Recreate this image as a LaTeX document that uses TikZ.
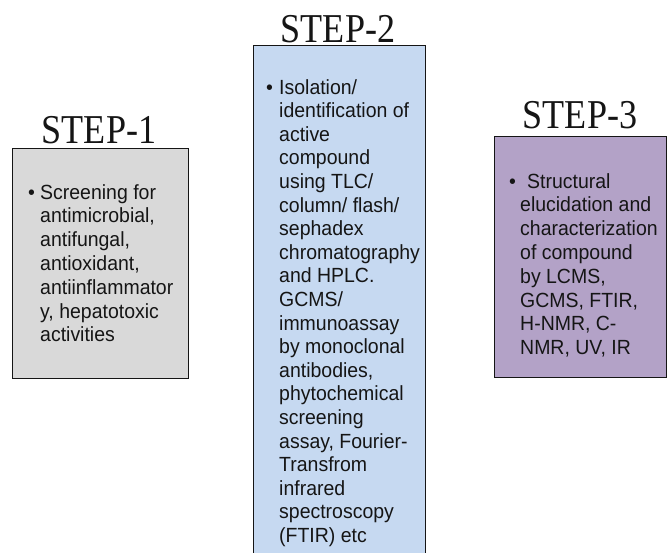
\documentclass[tikz,border=0pt]{standalone}
\usepackage{fontspec}
\setmainfont{Liberation Serif}
\newfontfamily\titlefont{Liberation Serif}[FakeStretch=0.88]
\newfontfamily\bodyfont{Liberation Sans}[FakeStretch=0.95]
\definecolor{boxgray}{HTML}{D9D9D9}
\definecolor{boxblue}{HTML}{C6D9F1}
\definecolor{boxpurple}{HTML}{B3A2C7}
\definecolor{inkc}{HTML}{151515}
\begin{document}
\begin{tikzpicture}[x=1pt,y=-1pt,
  stepbox/.style={draw=inkc, line width=1.3pt, anchor=north west, inner sep=0pt},
  steptitle/.style={anchor=base, inner sep=0pt, text=inkc, font=\titlefont\fontsize{41}{45}\selectfont},
  body/.style={anchor=base west, inner sep=0pt, text=inkc, font=\bodyfont\fontsize{20.5}{23.8}\selectfont},
  body2/.style={body, font=\bodyfont\fontsize{20.5}{23.6}\selectfont},
  ]
\useasboundingbox (0,0) rectangle (667,552);
\fill[white] (0,0) rectangle (667,552);

% boxes
\node[stepbox, fill=boxgray, minimum width=176pt, minimum height=230pt] (box1) at (12,148) {};
\node[stepbox, fill=boxblue, minimum width=172pt, minimum height=520pt] (box2) at (253,45) {};
\node[stepbox, fill=boxpurple, minimum width=172pt, minimum height=241pt] (box3) at (494,136) {};

% titles
\node[steptitle] (t1) at (99,143) {STEP-1};
\node[steptitle] (t2) at (338,42) {STEP-2};
\node[steptitle] (t3) at (580,128) {STEP-3};

% step 1 text
\node[body] (b1) at (28,199) {•};
\node[body] (x1) at (40,199) {\begin{tabular}[t]{@{}l@{}}
Screening for\\
antimicrobial,\\
antifungal,\\
antioxidant,\\
antiinflammator\\
y, hepatotoxic\\
activities
\end{tabular}};

% step 2 text
\node[body2] (b2) at (266,94) {•};
\node[body2] (x2) at (279,94) {\begin{tabular}[t]{@{}l@{}}
Isolation/\\
identification of\\
active\\
compound\\
using TLC/\\
column/ flash/\\
sephadex\\
chromatography\\
and HPLC.\\
GCMS/\\
immunoassay\\
by monoclonal\\
antibodies,\\
phytochemical\\
screening\\
assay, Fourier-\\
Transfrom\\
infrared\\
spectroscopy\\
(FTIR) etc
\end{tabular}};

% step 3 text
\node[body] (b3) at (509,188) {•};
\node[body] (x3) at (520,188) {\begin{tabular}[t]{@{}l@{}}
\hspace*{7pt}Structural\\
elucidation and\\
characterization\\
of compound\\
by LCMS,\\
GCMS, FTIR,\\
H-NMR, C-\\
NMR, UV, IR
\end{tabular}};
\end{tikzpicture}
\end{document}
